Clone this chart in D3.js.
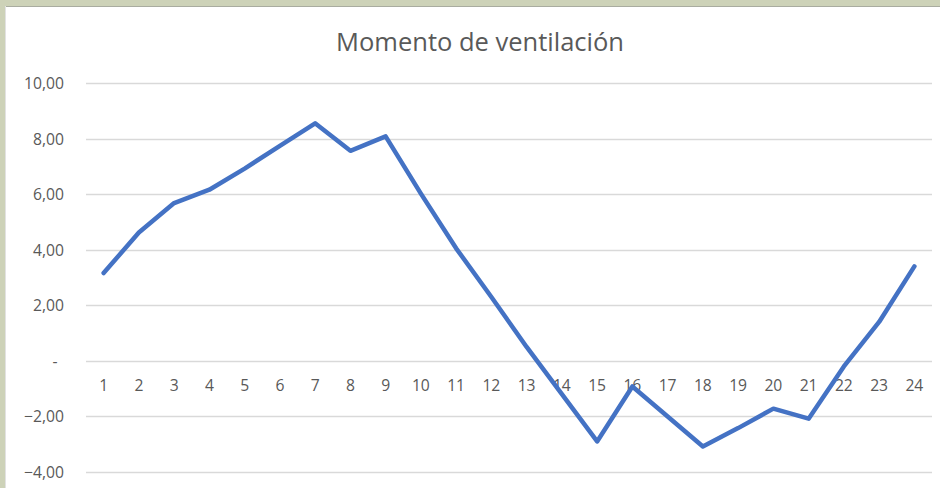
<!DOCTYPE html>
<html>
<head>
<meta charset="utf-8">
<script src="https://cdn.jsdelivr.net/npm/d3@7"></script>
<style>
    html, body { margin: 0; padding: 0; background: #cdd2b8; overflow: hidden; }
    svg { display: block; }
    .tick-label { fill: #595959; font-family: "Open Sans", sans-serif; font-size: 15.7px; }
    .grid { stroke: #d9d9d9; stroke-width: 1.3; }
</style>
</head>
<body>
<div id="chart"></div>
<script>
// hours on the category axis
const hours = d3.range(1, 25).map(String);
// ventilation moment per hour
const moment = [3.16, 4.62, 5.68, 6.16, 6.92, 7.74, 8.55, 7.56, 8.08, 6.02, 4.05, 2.30,
    0.50, -1.20, -2.90, -0.92, -2.00, -3.08, -2.42, -1.72, -2.08, -0.20, 1.40, 3.40];
const yTicks = [10, 8, 6, 4, 2, 0, -2, -4];
const title = "Momento de ventilación";

const width = 940, height = 488;
const fmt = v => v === 0 ? "-" : d3.format(".2f")(v).replace(".", ",");

const svg = d3.select("#chart")
    .append("svg")
    .attr("width", width)
    .attr("height", height);

// chart area frame
svg.append("rect")
    .attr("x", 5).attr("y", 6)
    .attr("width", width).attr("height", height)
    .attr("fill", "#fff");
svg.append("line")
    .attr("x1", 5).attr("x2", width).attr("y1", 6.5).attr("y2", 6.5)
    .attr("stroke", "#a9aca0");
svg.append("line")
    .attr("x1", 5.5).attr("x2", 5.5).attr("y1", 6).attr("y2", height)
    .attr("stroke", "#e2e2e2");

const x = d3.scaleBand().domain(hours).range([86, 932]);
const y = d3.scaleLinear().domain([-4, 10]).range([472, 83]);

svg.append("text")
    .attr("x", 480).attr("y", 51)
    .attr("text-anchor", "middle")
    .attr("fill", "#595959")
    .style("font-family", "'Open Sans', sans-serif")
    .style("font-size", "25.5px")
    .text(title);

svg.append("g")
    .selectAll("line")
    .data(yTicks)
    .join("line")
    .classed("grid", true)
    .attr("x1", 86).attr("x2", 932)
    .attr("y1", d => Math.round(y(d)) + 0.5)
    .attr("y2", d => Math.round(y(d)) + 0.5);

svg.append("g")
    .selectAll("text")
    .data(yTicks)
    .join("text")
    .classed("tick-label", true)
    .attr("x", d => d === 0 ? 55 : 64)
    .attr("y", d => y(d) + 6)
    .attr("text-anchor", d => d === 0 ? "middle" : "end")
    .text(fmt);

svg.append("g")
    .selectAll("text")
    .data(hours)
    .join("text")
    .classed("tick-label", true)
    .attr("x", d => x(d) + x.bandwidth() / 2)
    .attr("y", y(0) + 30)
    .attr("text-anchor", "middle")
    .text(d => d);

const line = d3.line()
    .x((d, i) => x(hours[i]) + x.bandwidth() / 2)
    .y(d => y(d));

svg.append("path")
    .datum(moment)
    .attr("d", line)
    .attr("fill", "none")
    .attr("stroke", "#4472c4")
    .attr("stroke-width", 4.5)
    .attr("stroke-linejoin", "round")
    .attr("stroke-linecap", "round");
</script>
</body>
</html>
